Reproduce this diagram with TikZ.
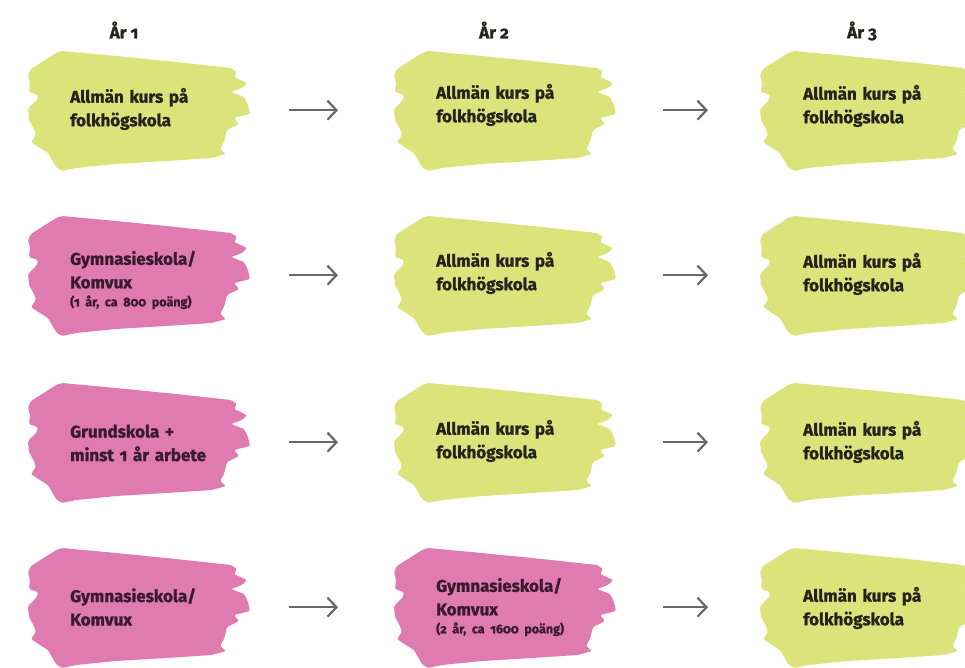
\documentclass[tikz,border=0pt]{standalone}
\usepackage{fontspec}
\setmainfont{Fira Sans}[Numbers=OldStyle, BoldFeatures={FakeBold=1.2}]
\usetikzlibrary{arrows.meta}
\definecolor{lime}{HTML}{DDE37B}
\definecolor{rose}{HTML}{E07BB1}
\definecolor{ink}{HTML}{24241C}
\definecolor{plum}{HTML}{3A1A30}
\definecolor{arrowgray}{HTML}{686868}
\tikzset{
  blob/.pic={
    \fill[pic actions, rounded corners=1.5pt]
      (30,3) -- (36,1) -- (90,6) -- (150,12) -- (205,18) -- (211,22) -- (208,27)
      -- (221,33) -- (216,38) -- (205,42) -- (218,47) -- (222,55) -- (224,64)
      -- (208,68) -- (213,74) -- (201,80) -- (198,92) -- (194,99) -- (200,104)
      -- (186,108) -- (140,111) -- (90,114) -- (50,118) -- (36,121) -- (30,117)
      -- (26,110) -- (22,103) -- (14,98) -- (5,92) -- (10,85) -- (8,79)
      -- (3,70) -- (2,59) -- (11,50) -- (12,45) -- (3,42) -- (4,33) -- (2,25)
      -- (5,19) -- (16,12) -- (24,7) -- cycle;
  },
  box/.style={rectangle, minimum width=225pt, minimum height=120pt, inner sep=0pt},
  lbl/.style={anchor=west, inner sep=0pt, text width=175pt, align=left,
    font=\bfseries\fontsize{17}{23.5}\selectfont, text=ink},
  pinklbl/.style={lbl, text=plum},
  head/.style={font=\bfseries\fontsize{17}{18}\selectfont, text=ink, inner sep=0pt},
  arr/.style={draw=arrowgray, line width=2.3pt,
    -{Straight Barb[length=9pt,width=19pt,line width=2.2pt]}},
}
\begin{document}
\begin{tikzpicture}[x=1pt,y=-1pt]
\useasboundingbox (0,0) rectangle (965,668);
\clip (0,0) rectangle (965,668);
\fill[white] (0,0) rectangle (965,668);

% headers
\node[head] (h1) at (124,30) {År 1};
\node[head] (h2) at (494,30) {År 2};
\node[head] (h3) at (862,31) {År 3};

% blob boxes (anchors for connectors)
\foreach \r/\y in {1/50,2/215,3/382,4/547}{
  \foreach \c/\x in {1/26,2/392,3/758}{
    \node[box, anchor=north west] (b\r\c) at (\x,\y) {};
  }
}

% blobs
\pic[fill=lime] at (b11.north west) {blob};
\pic[fill=lime] at (b12.north west) {blob};
\pic[fill=lime] at (b13.north west) {blob};
\pic[fill=rose] at (b21.north west) {blob};
\pic[fill=lime] at (b22.north west) {blob};
\pic[fill=lime] at (b23.north west) {blob};
\pic[fill=rose] at (b31.north west) {blob};
\pic[fill=lime] at (b32.north west) {blob};
\pic[fill=lime] at (b33.north west) {blob};
\pic[fill=rose] at (b41.north west) {blob};
\pic[fill=rose] at (b42.north west) {blob};
\pic[fill=lime] at (b43.north west) {blob};

% labels
\node[lbl] (t11) at (70,109) {Allmän kurs på\\folkhögskola};
\node[lbl] (t12) at (436,105) {Allmän kurs på\\folkhögskola};
\node[lbl] (t13) at (803,106) {Allmän kurs på\\folkhögskola};

\node[pinklbl] (t21) at (70,280) {Gymnasieskola/\\Komvux\par{\bfseries\fontsize{12.5}{18}\selectfont (1 år, ca 800 poäng)\par}};
\node[lbl] (t22) at (436,273) {Allmän kurs på\\folkhögskola};
\node[lbl] (t23) at (803,274) {Allmän kurs på\\folkhögskola};

\node[pinklbl] (t31) at (70,443) {Grundskola +\\minst 1 år arbete};
\node[lbl] (t32) at (436,441) {Allmän kurs på\\folkhögskola};
\node[lbl] (t33) at (803,442) {Allmän kurs på\\folkhögskola};

\node[pinklbl] (t41) at (70,607) {Gymnasieskola/\\Komvux};
\node[pinklbl] (t42) at (436,607) {Gymnasieskola/\\Komvux\par{\bfseries\fontsize{12.5}{18}\selectfont (2 år, ca 1600 poäng)\par}};
\node[lbl] (t43) at (803,608) {Allmän kurs på\\folkhögskola};

% connectors
\foreach \r in {1,2,3,4}{
  \draw[arr, shorten <=38pt, shorten >=54pt] (b\r1.east) -- (b\r2.west);
  \draw[arr, shorten <=46pt, shorten >=50pt] (b\r2.east) -- (b\r3.west);
}
\end{tikzpicture}
\end{document}
